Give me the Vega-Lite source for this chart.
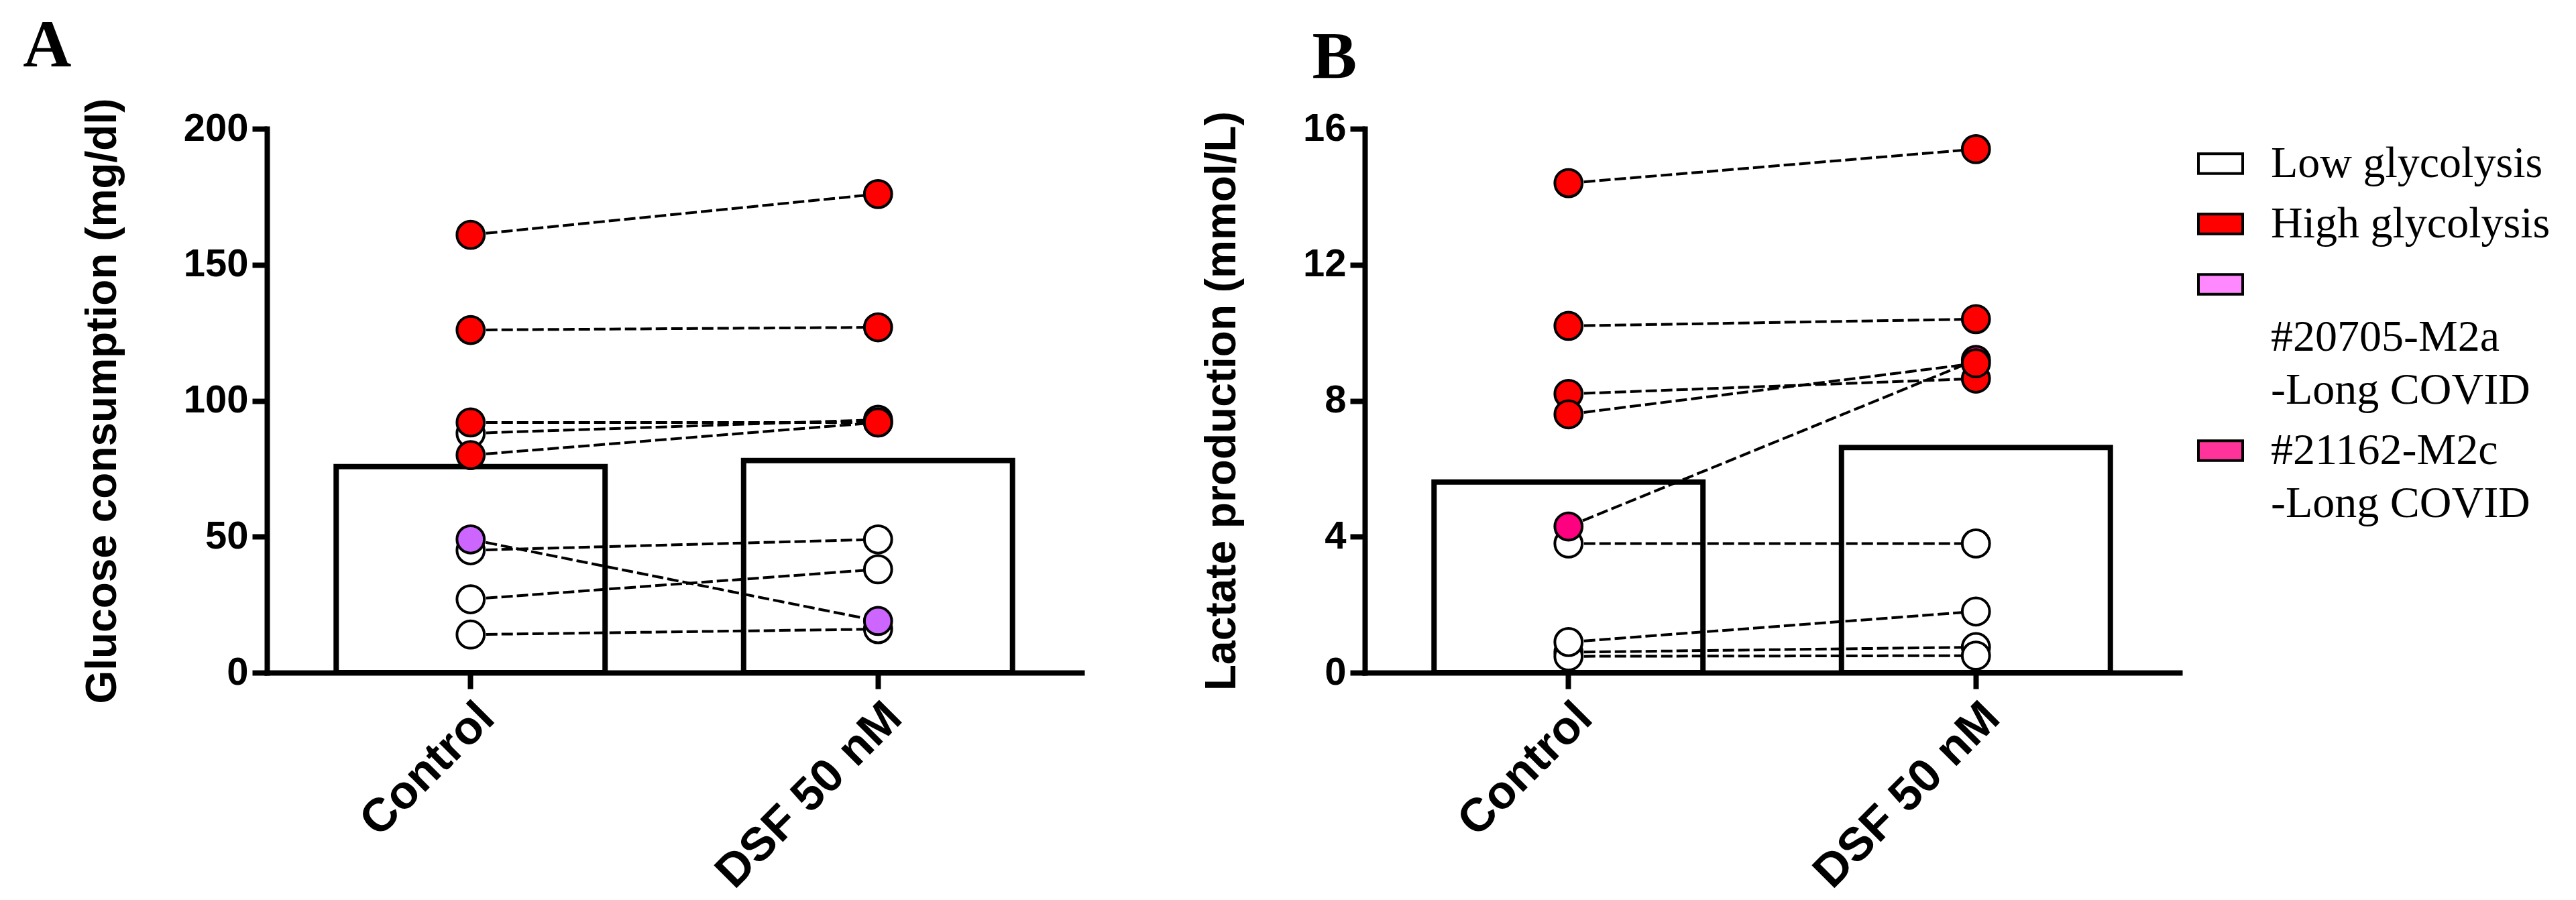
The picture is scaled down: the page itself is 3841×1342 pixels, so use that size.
{
  "$schema": "https://vega.github.io/schema/vega-lite/v6.json",
  "background": "white",
  "autosize": {"type": "pad"},
  "padding": {"left": 34, "top": 18, "right": 5, "bottom": 5},
  "datasets": {
    "glucose": [
      {"sample": "G1", "group": "Low glycolysis", "condition": "Control", "value": 88},
      {"sample": "G1", "group": "Low glycolysis", "condition": "DSF 50 nM", "value": 93},
      {"sample": "G2", "group": "Low glycolysis", "condition": "Control", "value": 45},
      {"sample": "G2", "group": "Low glycolysis", "condition": "DSF 50 nM", "value": 49},
      {"sample": "G3", "group": "Low glycolysis", "condition": "Control", "value": 27},
      {"sample": "G3", "group": "Low glycolysis", "condition": "DSF 50 nM", "value": 38},
      {"sample": "G4", "group": "Low glycolysis", "condition": "Control", "value": 14},
      {"sample": "G4", "group": "Low glycolysis", "condition": "DSF 50 nM", "value": 16},
      {"sample": "G5", "group": "#20705-M2a -Long COVID", "condition": "Control", "value": 49},
      {"sample": "G5", "group": "#20705-M2a -Long COVID", "condition": "DSF 50 nM", "value": 19},
      {"sample": "G6", "group": "High glycolysis", "condition": "Control", "value": 161},
      {"sample": "G6", "group": "High glycolysis", "condition": "DSF 50 nM", "value": 176},
      {"sample": "G7", "group": "High glycolysis", "condition": "Control", "value": 126},
      {"sample": "G7", "group": "High glycolysis", "condition": "DSF 50 nM", "value": 127},
      {"sample": "G8", "group": "High glycolysis", "condition": "Control", "value": 92},
      {"sample": "G8", "group": "High glycolysis", "condition": "DSF 50 nM", "value": 92},
      {"sample": "G9", "group": "High glycolysis", "condition": "Control", "value": 80},
      {"sample": "G9", "group": "High glycolysis", "condition": "DSF 50 nM", "value": 92}
    ],
    "lactate": [
      {"sample": "L3", "group": "Low glycolysis", "condition": "Control", "value": 0.6},
      {"sample": "L3", "group": "Low glycolysis", "condition": "DSF 50 nM", "value": 0.75},
      {"sample": "L4", "group": "Low glycolysis", "condition": "Control", "value": 0.48},
      {"sample": "L4", "group": "Low glycolysis", "condition": "DSF 50 nM", "value": 0.5},
      {"sample": "L2", "group": "Low glycolysis", "condition": "Control", "value": 0.9},
      {"sample": "L2", "group": "Low glycolysis", "condition": "DSF 50 nM", "value": 1.8},
      {"sample": "L1", "group": "Low glycolysis", "condition": "Control", "value": 3.8},
      {"sample": "L1", "group": "Low glycolysis", "condition": "DSF 50 nM", "value": 3.8},
      {"sample": "L5", "group": "#21162-M2c -Long COVID", "condition": "Control", "value": 4.3},
      {"sample": "L5", "group": "#21162-M2c -Long COVID", "condition": "DSF 50 nM", "value": 9.2},
      {"sample": "L6", "group": "High glycolysis", "condition": "Control", "value": 14.4},
      {"sample": "L6", "group": "High glycolysis", "condition": "DSF 50 nM", "value": 15.4},
      {"sample": "L7", "group": "High glycolysis", "condition": "Control", "value": 10.2},
      {"sample": "L7", "group": "High glycolysis", "condition": "DSF 50 nM", "value": 10.4},
      {"sample": "L8", "group": "High glycolysis", "condition": "Control", "value": 8.2},
      {"sample": "L8", "group": "High glycolysis", "condition": "DSF 50 nM", "value": 8.65},
      {"sample": "L9", "group": "High glycolysis", "condition": "Control", "value": 7.6},
      {"sample": "L9", "group": "High glycolysis", "condition": "DSF 50 nM", "value": 9.1}
    ]
  },
  "spacing": 177,
  "resolve": {
    "scale": {"y": "independent", "fill": "independent", "color": "independent"},
    "legend": {"fill": "independent", "color": "independent"}
  },
  "hconcat": [
    {
      "width": 1215,
      "height": 811,
      "title": {"text": "A", "anchor": "start", "frame": "bounds", "dx": -87, "offset": 26, "font": "Liberation Serif", "fontSize": 100, "fontWeight": "bold", "color": "black"},
      "data": {"name": "glucose"},
      "encoding": {
        "x": {"field": "condition", "type": "nominal", "sort": ["Control", "DSF 50 nM"], "title": null,
              "scale": {"paddingInner": 0.34, "paddingOuter": 0.17},
              "axis": {"labelAngle": -45, "labelFontSize": 70, "tickSize": 24, "labelPadding": 8}}
      },
      "layer": [
        {
          "mark": {"type": "bar", "fill": "white", "stroke": "black", "strokeWidth": 8},
          "encoding": {
            "y": {"aggregate": "mean", "field": "value", "type": "quantitative", "title": "Glucose consumption (mg/dl)",
                  "scale": {"domain": [0, 200], "nice": false},
                  "axis": {"values": [0, 50, 100, 150, 200]}}
          }
        },
        {
          "mark": {"type": "line", "stroke": "black", "strokeWidth": 4, "strokeDash": [17, 6]},
          "encoding": {
            "y": {"field": "value", "type": "quantitative", "title": "Glucose consumption (mg/dl)"},
            "detail": {"field": "sample"}
          }
        },
        {
          "mark": {"type": "point", "shape": "circle", "filled": true, "opacity": 1, "size": 1660, "stroke": "black", "strokeWidth": 4},
          "encoding": {
            "y": {"field": "value", "type": "quantitative", "title": "Glucose consumption (mg/dl)"},
            "fill": {"field": "group", "type": "nominal", "legend": null,
                     "scale": {"domain": ["Low glycolysis", "High glycolysis", "#20705-M2a -Long COVID", "#21162-M2c -Long COVID"],
                               "range": ["#FFFFFF", "#FF0000", "#CC66FF", "#FF0080"]}}
          }
        }
      ]
    },
    {
      "width": 1215,
      "height": 811,
      "title": {"text": "B", "anchor": "start", "frame": "bounds", "dx": 166, "offset": 26, "font": "Liberation Serif", "fontSize": 100, "fontWeight": "bold", "color": "black"},
      "data": {"name": "lactate"},
      "encoding": {
        "x": {"field": "condition", "type": "nominal", "sort": ["Control", "DSF 50 nM"], "title": null,
              "scale": {"paddingInner": 0.34, "paddingOuter": 0.17},
              "axis": {"labelAngle": -45, "labelFontSize": 70, "tickSize": 24, "labelPadding": 8}}
      },
      "resolve": {"scale": {"fill": "independent", "color": "independent"}},
      "layer": [
        {
          "mark": {"type": "bar", "fill": "white", "stroke": "black", "strokeWidth": 8},
          "encoding": {
            "y": {"aggregate": "mean", "field": "value", "type": "quantitative", "title": "Lactate production (mmol/L)",
                  "scale": {"domain": [0, 16], "nice": false},
                  "axis": {"values": [0, 4, 8, 12, 16]}}
          }
        },
        {
          "mark": {"type": "line", "stroke": "black", "strokeWidth": 4, "strokeDash": [17, 6]},
          "encoding": {
            "y": {"field": "value", "type": "quantitative", "title": "Lactate production (mmol/L)"},
            "detail": {"field": "sample"}
          }
        },
        {
          "mark": {"type": "point", "shape": "circle", "filled": true, "opacity": 1, "size": 1660, "stroke": "black", "strokeWidth": 4},
          "encoding": {
            "y": {"field": "value", "type": "quantitative", "title": "Lactate production (mmol/L)"},
            "fill": {"field": "group", "type": "nominal", "legend": null,
                     "scale": {"domain": ["Low glycolysis", "High glycolysis", "#20705-M2a -Long COVID", "#21162-M2c -Long COVID"],
                               "range": ["#FFFFFF", "#FF0000", "#CC66FF", "#FF0080"]}}
          }
        },
        {
          "mark": {"type": "point", "shape": "circle", "filled": true, "opacity": 0, "size": 10, "stroke": "black", "strokeWidth": 4},
          "encoding": {
            "y": {"field": "value", "type": "quantitative", "title": "Lactate production (mmol/L)"},
            "color": {"field": "group", "type": "nominal",
                      "scale": {"domain": ["Low glycolysis", "High glycolysis", "#20705-M2a -Long COVID", "#21162-M2c -Long COVID"],
                                "range": ["#FFFFFF", "#FF0000", "#FF88FF", "#FF3399"]},
                      "legend": {"title": null, "orient": "right", "offset": 9, "padding": 17,
                                 "symbolType": "M-1,-0.45H1V0.45H-1Z", "symbolSize": 4356,
                                 "symbolStrokeColor": "black", "symbolStrokeWidth": 4, "symbolOpacity": 1,
                                 "labelFont": "Liberation Serif", "labelFontSize": 66, "labelColor": "black",
                                 "labelOffset": 40, "rowPadding": 22, "labelLimit": 1000,
                                 "labelExpr": "datum.label == '#20705-M2a -Long COVID' ? ['', '#20705-M2a', '-Long COVID'] : datum.label == '#21162-M2c -Long COVID' ? ['#21162-M2c', '-Long COVID'] : datum.label"}}
          }
        }
      ]
    }
  ],
  "config": {
    "view": {"stroke": null},
    "font": "Liberation Sans",
    "style": {"guide-label": {"lineHeight": 79}},
    "axis": {
      "domainColor": "black", "domainWidth": 8, "domainCap": "square",
      "tickColor": "black", "tickWidth": 8, "tickSize": 22,
      "labelFont": "Liberation Sans", "labelFontWeight": "bold", "labelFontSize": 58, "labelColor": "black",
      "labelPadding": 6, "labelFlush": false, "labelLimit": 1000,
      "titleFont": "Liberation Sans", "titleFontWeight": "bold", "titleFontSize": 64, "titleColor": "black",
      "titlePadding": 88, "grid": false
    }
  }
}
